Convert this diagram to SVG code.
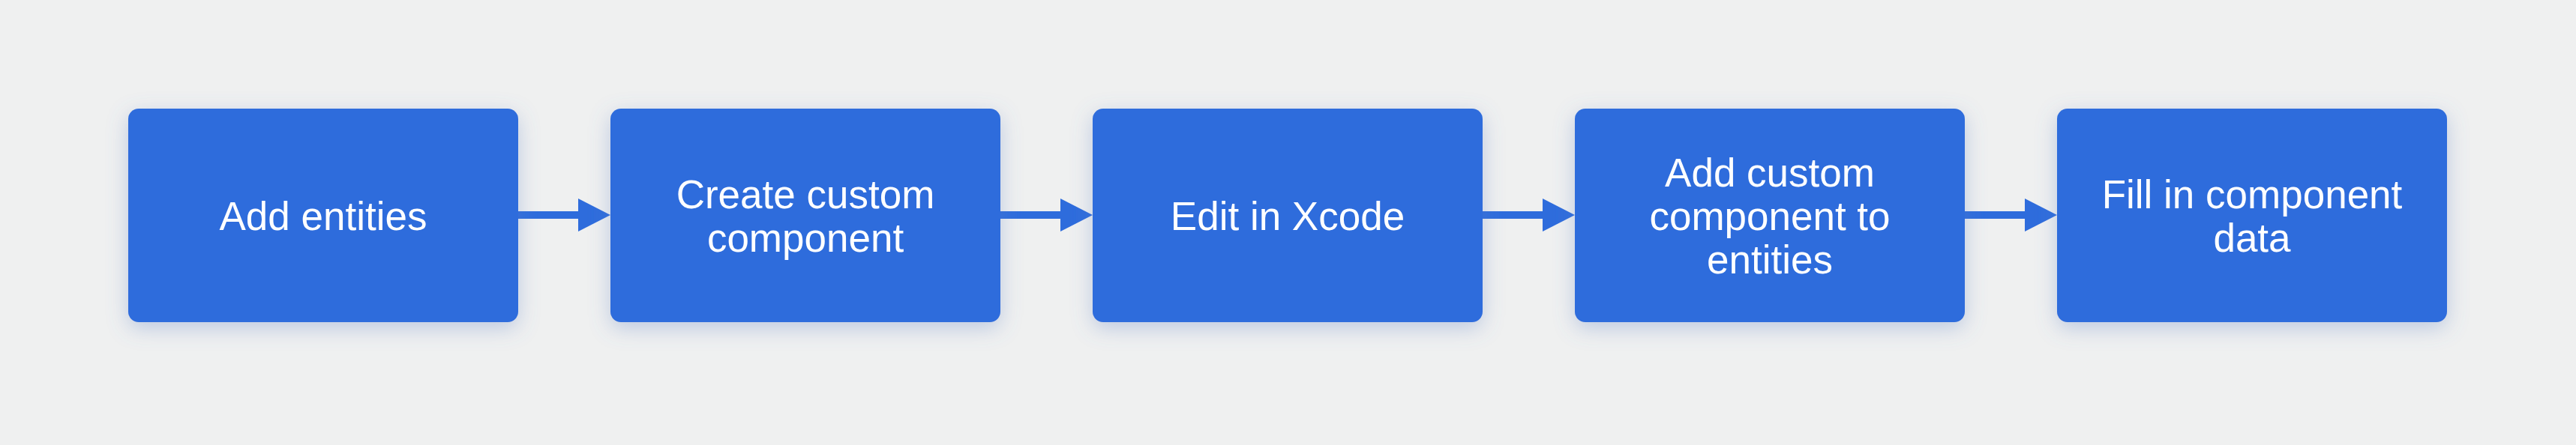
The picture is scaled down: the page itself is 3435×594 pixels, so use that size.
<svg xmlns="http://www.w3.org/2000/svg" width="3435" height="594" viewBox="0 0 3435 594">
<defs>
<filter id="sh" x="-20%" y="-30%" width="140%" height="160%">
<feDropShadow dx="0" dy="8" stdDeviation="14" flood-color="#5f7fc4" flood-opacity="0.35"/>
</filter>
<style>
.box{fill:#2e6cdc;filter:url(#sh);}
.lbl{font-family:"Liberation Sans",Arial,sans-serif;font-size:53px;fill:#ffffff;text-anchor:middle;}
.ln{stroke:#2e6cdc;stroke-width:10;fill:none;}
.hd{fill:#2e6cdc;}
</style>
</defs>
<rect width="3435" height="594" fill="#eff0f0"/>
<g id="connectors">
<line class="ln" x1="690" y1="287" x2="774" y2="287"/><polygon class="hd" points="771,265 814,287 771,309"/>
<line class="ln" x1="1333" y1="287" x2="1417" y2="287"/><polygon class="hd" points="1414,265 1457,287 1414,309"/>
<line class="ln" x1="1976" y1="287" x2="2060" y2="287"/><polygon class="hd" points="2057,265 2100,287 2057,309"/>
<line class="ln" x1="2619" y1="287" x2="2703" y2="287"/><polygon class="hd" points="2700,265 2743,287 2700,309"/>
</g>
<g id="n1"><rect class="box" x="171" y="145" width="520" height="285" rx="14"/><text class="lbl" x="431" y="307">Add entities</text></g>
<g id="n2"><rect class="box" x="814" y="145" width="520" height="285" rx="14"/><text class="lbl" x="1074" y="278">Create custom</text><text class="lbl" x="1074" y="336">component</text></g>
<g id="n3"><rect class="box" x="1457" y="145" width="520" height="285" rx="14"/><text class="lbl" x="1717" y="307">Edit in Xcode</text></g>
<g id="n4"><rect class="box" x="2100" y="145" width="520" height="285" rx="14"/><text class="lbl" x="2360" y="249">Add custom</text><text class="lbl" x="2360" y="307">component to</text><text class="lbl" x="2360" y="365">entities</text></g>
<g id="n5"><rect class="box" x="2743" y="145" width="520" height="285" rx="14"/><text class="lbl" x="3003" y="278">Fill in component</text><text class="lbl" x="3003" y="336">data</text></g>
</svg>
